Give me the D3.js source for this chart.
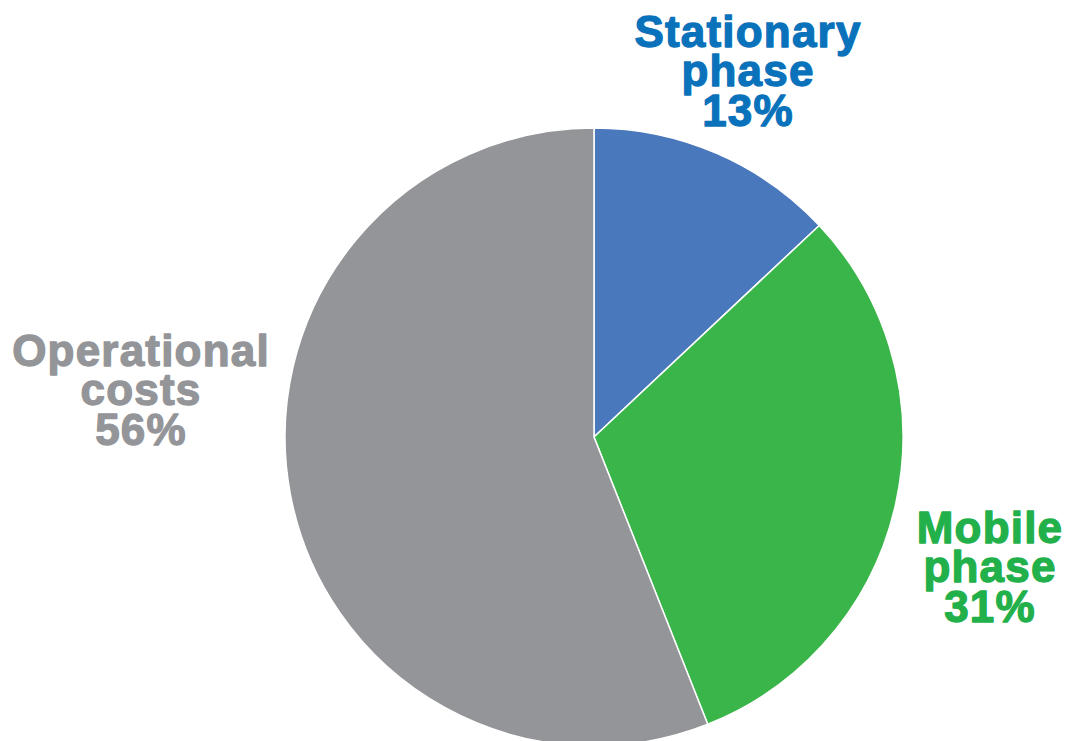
<!DOCTYPE html>
<html><head><meta charset="utf-8">
<script src="https://cdn.jsdelivr.net/npm/d3@7/dist/d3.min.js"></script>
<style>body{margin:0;background:#fff;}svg{display:block;}</style>
</head><body>
<svg id="chart" width="1066" height="741"></svg>
<script>
const categories = ["Stationary phase", "Mobile phase", "Operational costs"];
const values = [13, 31, 56];
const sliceColors = ["#4a78bc", "#3ab54a", "#939598"];
const labelColors = ["#0a72bb", "#22b04b", "#939598"];
const labelLines = [["Stationary", "phase", "13%"], ["Mobile", "phase", "31%"], ["Operational", "costs", "56%"]];
const labelPos = [[748, 47], [990, 543], [141, 366]];

const svg = d3.select("#chart");
const cx = 594, cy = 437, r = 309;
const pie = d3.pie().sort(null).value(d => d)(values);
const arc = d3.arc().innerRadius(0).outerRadius(r);
const g = svg.append("g").attr("transform", `translate(${cx},${cy})`);
g.selectAll("path").data(pie).join("path")
  .attr("d", arc)
  .attr("fill", (d, i) => sliceColors[i])
  .attr("stroke", "#fff").attr("stroke-width", 1.5);

labelLines.forEach((lines, i) => {
  const t = svg.append("text")
    .attr("x", labelPos[i][0]).attr("y", labelPos[i][1])
    .attr("text-anchor", "middle")
    .attr("fill", labelColors[i])
    .attr("stroke", labelColors[i]).attr("stroke-width", 1.3)
    .attr("stroke-linejoin", "round")
    .style("font-family", "'Liberation Sans', Arial, sans-serif")
    .style("font-weight", "bold").style("font-size", "44px")
    .style("letter-spacing", "1.2px");
  lines.forEach((l, j) => {
    t.append("tspan").attr("x", labelPos[i][0]).attr("dy", j === 0 ? 0 : 39.3).text(l);
  });
});
</script>
</body></html>
